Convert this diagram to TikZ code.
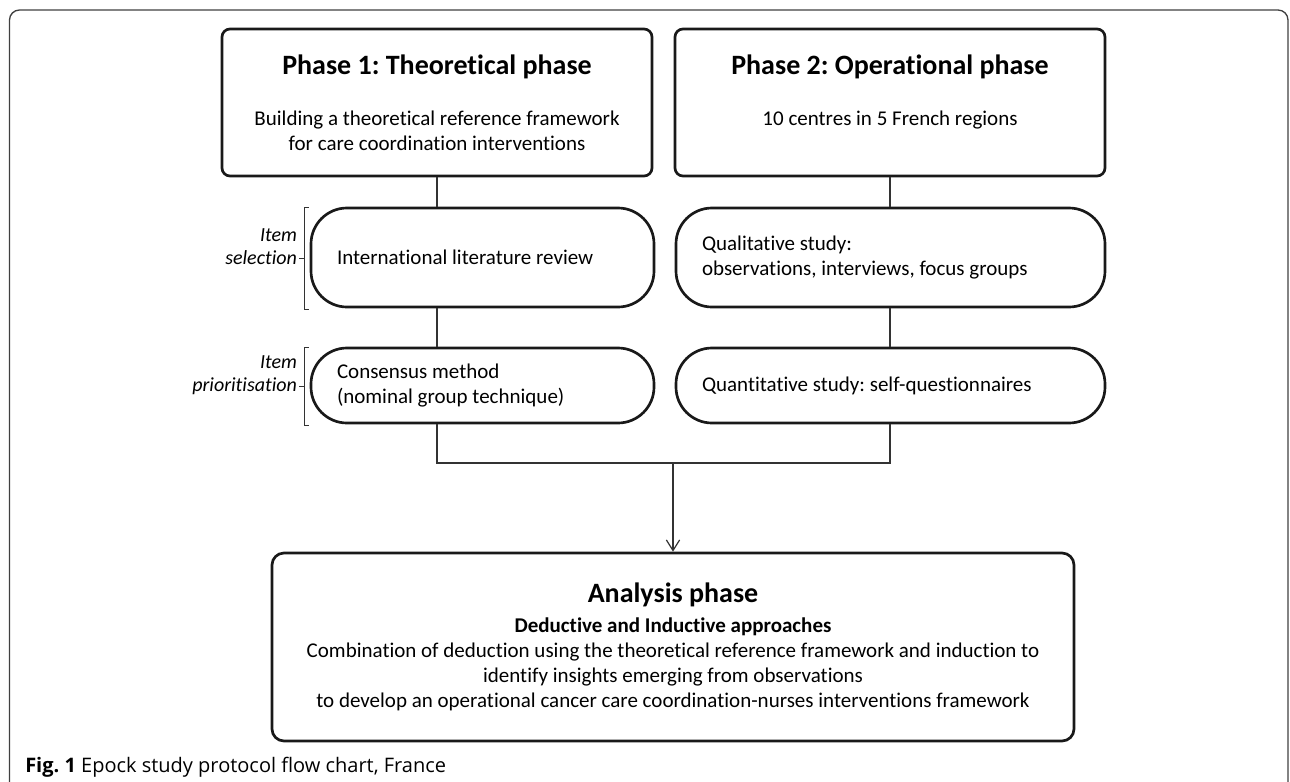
\documentclass[tikz,border=0pt]{standalone}
\usepackage{fontspec}
\setmainfont{Carlito}[Ligatures=NoCommon]
\newfontfamily\capfont{Open Sans}
\usetikzlibrary{arrows.meta}
\frenchspacing

\tikzstyle{phase}=[draw=black!90,line width=2pt,rounded corners=6pt,minimum width=322.5pt,minimum height=110.25pt,inner sep=0pt]
\tikzstyle{phasetitle}=[font=\fontsize{21}{25}\selectfont\bfseries,inner sep=0pt]
\tikzstyle{phasetext}=[font=\fontsize{15.75}{18.75}\selectfont,align=center,anchor=north,inner sep=0pt]
\tikzstyle{pill}=[draw=black!90,line width=2pt,rounded corners=27pt,inner sep=0pt,align=flush left,font=\fontsize{15.75}{18.75}\selectfont]
\tikzstyle{link}=[draw=black!80,line width=0.9pt]
\tikzstyle{brace}=[draw=black!80,line width=0.6pt]
\tikzstyle{itemlabel}=[font=\fontsize{15}{17.25}\selectfont\itshape,align=right,anchor=east,inner sep=1pt,yshift=8.6pt]
\tikzstyle{analysis}=[draw=black!90,line width=2pt,rounded corners=9pt,minimum width=601.5pt,minimum height=141pt,inner sep=0pt,align=center,font=\fontsize{15.75}{18.75}\selectfont]
\newcommand{\pxscale}{0.75pt}

\begin{document}
\begin{tikzpicture}[x=\pxscale, y=-\pxscale]
    \useasboundingbox (0,0) rectangle (1290,782);
    % Outer frame of the figure
    \draw[black!75,line width=1pt,rounded corners=7.5pt] (9.5,800) -- (9.5,10) -- (1288,10) -- (1288,800);
    % First we draw the two phase boxes
    \foreach \pos/\name in {{(437,102.5)}/p1, {(890,102.5)}/p2}
        \node[phase] (\name) at \pos {};
    \node[phasetitle] (p1t) at (437,67) {Phase 1: Theoretical phase};
    \node[phasetitle] (p2t) at (890,67) {Phase 2: Operational phase};
    \node[phasetext] (p1x) at (437,111) {Building a theoretical reference framework\\for care coordination interventions};
    \node[phasetext] (p2x) at (890,111) {10 centres in 5 French regions};
    % Then the study steps
    \foreach \pos/\name/\bw/\bh/\bt/\txt in {
        {(482.5,257.5)}/sel/257.25pt/74.25pt/218.25pt/{International literature review},
        {(482.5,385.5)}/pri/257.25pt/56.25pt/218.25pt/{Consensus method\\(nominal group technique)},
        {(890.5,257.5)}/qual/321.75pt/74.25pt/282.75pt/{Qualitative study:\\observations, interviews, focus groups},
        {(890.5,385.5)}/quant/321.75pt/56.25pt/282.75pt/{Quantitative study: self-questionnaires}}
        \node[pill, minimum width=\bw, minimum height=\bh, text width=\bt] (\name) at \pos {\txt};
    % Brackets for the item steps
    \foreach \name/\txt in {sel/{Item\\selection}, pri/{Item\\prioritisation}} {
        \draw[brace] ([shift={(-1,1)}]\name.north west) -- ([shift={(-5,1)}]\name.north west)
            -- ([shift={(-5,1)}]\name.south west) -- ([shift={(-1,1)}]\name.south west);
        \draw[brace] ([shift={(-5,1)}]\name.west) -- ([shift={(-11,1)}]\name.west) node[itemlabel] {\txt};
    }
    % Connect the boxes
    \foreach \col/\source/\dest in {p1/p1/sel, p1/sel/pri, p2/p2/qual, p2/qual/quant}
        \path[link] (\col |- \source.south) -- (\col |- \dest.north);
    \node[analysis] (ana) at (673,647) {{\fontsize{21}{25}\selectfont\bfseries Analysis phase}\\[3.75pt]
        {\bfseries Deductive and Inductive approaches}\\
        Combination of deduction using the theoretical reference framework and induction to\\
        identify insights emerging from observations\\
        to develop an operational cancer care coordination-nurses interventions framework};
    \coordinate (join) at (673,463);
    \path[link] (p1 |- pri.south) -- (p1 |- join) -- (p2 |- join) -- (p2 |- quant.south);
    \path[link,-{Straight Barb[length=8pt,width=10pt]}] (join) -- (ana.north);
    % Caption
    \node[anchor=west,inner sep=0pt] (cap) at (25,767) {\capfont\fontsize{15}{17}\selectfont\textbf{Fig. 1} Epock study protocol flow chart, France};
\end{tikzpicture}
\end{document}
